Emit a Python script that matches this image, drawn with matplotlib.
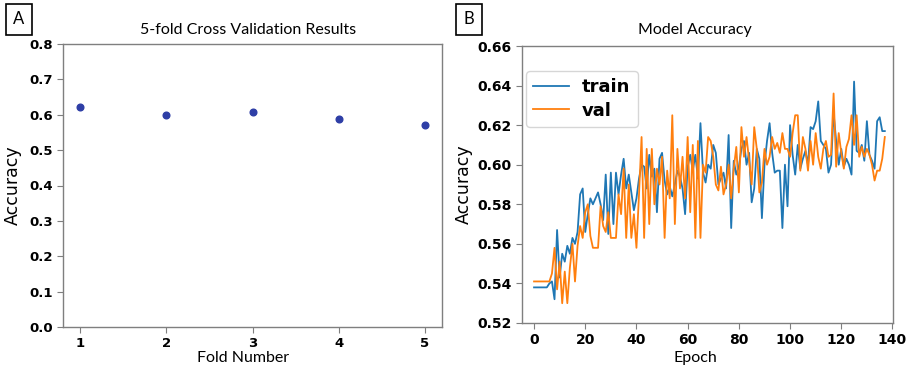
import matplotlib
matplotlib.use("Agg")
import matplotlib.pyplot as plt
import numpy as np

# Panel A: cross validation
folds = [1, 2, 3, 4, 5]
fold_acc = [0.622, 0.599, 0.609, 0.587, 0.570]

# Panel B: training history (epochs 0..137)
train_acc = [
    0.538, 0.538, 0.538, 0.538, 0.538, 0.538, 0.540, 0.541, 0.532, 0.567,
    0.543, 0.555, 0.551, 0.559, 0.555, 0.563, 0.560, 0.566, 0.585, 0.588,
    0.566, 0.575, 0.583, 0.580, 0.583, 0.586, 0.580, 0.572, 0.595, 0.565,
    0.596, 0.570, 0.596, 0.585, 0.595, 0.603, 0.588, 0.595, 0.586, 0.577,
    0.583, 0.593, 0.600, 0.599, 0.588, 0.605, 0.594, 0.598, 0.576, 0.603,
    0.606, 0.592, 0.585, 0.589, 0.584, 0.590, 0.597, 0.594, 0.588, 0.575,
    0.599, 0.605, 0.597, 0.605, 0.593, 0.621, 0.596, 0.591, 0.600, 0.598,
    0.610, 0.606, 0.590, 0.593, 0.596, 0.588, 0.615, 0.568, 0.602, 0.595,
    0.599, 0.608, 0.612, 0.600, 0.606, 0.581, 0.588, 0.608, 0.603, 0.573,
    0.600, 0.612, 0.621, 0.606, 0.596, 0.597, 0.597, 0.568, 0.600, 0.579,
    0.620, 0.605, 0.595, 0.610, 0.598, 0.603, 0.607, 0.600, 0.619, 0.618,
    0.622, 0.632, 0.612, 0.610, 0.608, 0.596, 0.600, 0.626, 0.612, 0.600,
    0.608, 0.599, 0.603, 0.600, 0.595, 0.642, 0.607, 0.606, 0.610, 0.602,
    0.622, 0.605, 0.602, 0.598, 0.622, 0.624, 0.617, 0.617,
]
val_acc = [
    0.541, 0.541, 0.541, 0.541, 0.541, 0.541, 0.541, 0.545, 0.558, 0.537,
    0.551, 0.530, 0.546, 0.530, 0.548, 0.560, 0.541, 0.559, 0.569, 0.563,
    0.576, 0.580, 0.564, 0.558, 0.558, 0.558, 0.579, 0.569, 0.566, 0.576,
    0.563, 0.563, 0.563, 0.585, 0.575, 0.598, 0.563, 0.590, 0.563, 0.575,
    0.558, 0.585, 0.614, 0.563, 0.608, 0.570, 0.608, 0.580, 0.598, 0.590,
    0.604, 0.563, 0.597, 0.583, 0.625, 0.570, 0.608, 0.588, 0.604, 0.583,
    0.614, 0.576, 0.610, 0.563, 0.612, 0.563, 0.600, 0.596, 0.614, 0.612,
    0.604, 0.590, 0.587, 0.599, 0.585, 0.590, 0.600, 0.583, 0.598, 0.609,
    0.586, 0.619, 0.604, 0.614, 0.602, 0.590, 0.619, 0.608, 0.586, 0.591,
    0.608, 0.600, 0.604, 0.614, 0.608, 0.611, 0.606, 0.616, 0.608, 0.608,
    0.604, 0.616, 0.625, 0.625, 0.597, 0.614, 0.608, 0.597, 0.612, 0.600,
    0.616, 0.604, 0.598, 0.608, 0.612, 0.604, 0.605, 0.636, 0.599, 0.616,
    0.606, 0.598, 0.609, 0.613, 0.625, 0.610, 0.625, 0.604, 0.609, 0.604,
    0.608, 0.605, 0.600, 0.592, 0.597, 0.597, 0.603, 0.614,
]
epochs = np.arange(len(train_acc))

LABEL_FONT = "Lato"
SPINE = "#7f7f7f"

fig = plt.figure(figsize=(9.11, 3.70), dpi=100)

def style_axes(ax, tick_size):
    for s in ax.spines.values():
        s.set_color(SPINE)
        s.set_linewidth(1.0)
    ax.tick_params(colors="black", labelsize=tick_size, length=4, color=SPINE)
    for lab in ax.get_xticklabels() + ax.get_yticklabels():
        lab.set_fontweight("bold")

# --- Panel A
axA = fig.add_axes([63 / 911, 1 - 327 / 370, 379 / 911, 283 / 370])
axA.plot(folds, fold_acc, "o", color="#2e3ea6", markersize=4.8)
axA.set_ylim(0, 0.8)
axA.set_xlim(0.8, 5.2)
axA.set_xticks(folds)
axA.set_yticks(np.arange(0, 0.81, 0.1))
axA.yaxis.set_major_formatter(plt.FormatStrFormatter("%.1f"))
style_axes(axA, 9.5)
axA.set_ylabel("Accuracy", fontsize=12.5, labelpad=5)
fig.text(248 / 911, 1 - 30 / 370, "5-fold Cross Validation Results",
         ha="center", va="center", fontsize=11.5, family=LABEL_FONT)
fig.text(243 / 911, 1 - 358 / 370, "Fold Number",
         ha="center", va="center", fontsize=11.5, family=LABEL_FONT)

# --- Panel B
axB = fig.add_axes([522 / 911, 1 - 323 / 370, 371 / 911, 277 / 370])
axB.plot(epochs, train_acc, color="#1f77b4", lw=1.3, label="train")
axB.plot(epochs, val_acc, color="#ff7f0e", lw=1.3, label="val")
axB.set_ylim(0.52, 0.66)
axB.set_xlim(-4.7, 140.2)
axB.set_xticks(np.arange(0, 141, 20))
axB.set_yticks(np.arange(0.52, 0.661, 0.02))
axB.yaxis.set_major_formatter(plt.FormatStrFormatter("%.2f"))
style_axes(axB, 10)
axB.set_ylabel("Accuracy", fontsize=12.5, labelpad=3)
axB.legend(loc="upper left", bbox_to_anchor=(0.011, 0.91),
           prop={"weight": "bold", "size": 13}, borderaxespad=0,
           handlelength=2.0, handletextpad=0.7, labelspacing=0.3)
fig.text(695 / 911, 1 - 30 / 370, "Model Accuracy",
         ha="center", va="center", fontsize=11.5, family=LABEL_FONT)
fig.text(695 / 911, 1 - 358 / 370, "Epoch",
         ha="center", va="center", fontsize=11.5, family=LABEL_FONT)

# --- panel letters in boxes
for x, letter in [(19 / 911, "A"), (469 / 911, "B")]:
    fig.text(x, 1 - 19 / 370, letter, ha="center", va="center", fontsize=12,
             family=LABEL_FONT,
             bbox=dict(boxstyle="square,pad=0.45", fc="white", ec="black", lw=1.2))

fig.savefig("out.png", dpi=100)
